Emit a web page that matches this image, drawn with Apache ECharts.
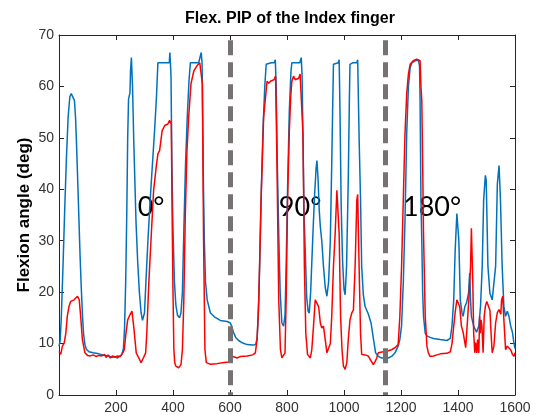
<!DOCTYPE html>
<html>
<head>
<meta charset="utf-8">
<script src="https://cdn.jsdelivr.net/npm/echarts@6/dist/echarts.min.js"></script>
<style>
  html, body { margin: 0; padding: 0; background: #fff; }
  #chart { width: 541px; height: 415px; }
</style>
</head>
<body>
<div id="chart"></div>
<script>
// PIP flexion of the index finger, two recordings over time (samples)
const chartTitle = 'Flex. PIP of the Index finger';
const yAxisTitle = 'Flexion angle (deg)';

const blueX = [0, 4, 8, 14, 20, 26, 32, 38, 43, 48, 54, 58, 62, 66, 70, 74, 78, 82, 86, 91, 96, 105, 120, 140, 160, 175, 185, 195, 205, 212, 220, 226, 230, 234, 238, 241, 244, 247, 249, 251, 254, 258, 262, 266, 270, 276, 282, 288, 293, 296, 300, 305, 312, 320, 328, 336, 342, 347, 360, 375, 387, 389, 391, 393, 396, 400, 405, 410, 416, 423, 428, 433, 438, 444, 450, 456, 461, 475, 490, 497, 499, 502, 504, 507, 510, 514, 520, 531, 545, 566, 590, 601, 606, 612, 620, 630, 645, 660, 680, 690, 695, 699, 704, 710, 716, 722, 727, 732, 745, 755, 759, 762, 766, 771, 776, 782, 788, 793, 797, 802, 808, 814, 817, 830, 845, 850, 853, 856, 860, 864, 869, 874, 878, 883, 890, 896, 902, 905, 909, 913, 917, 922, 928, 934, 940, 946, 952, 957, 960, 963, 970, 980, 983, 986, 990, 995, 1000, 1004, 1009, 1015, 1019, 1021, 1030, 1045, 1048, 1053, 1058, 1062, 1068, 1074, 1085, 1095, 1103, 1111, 1120, 1132, 1145, 1155, 1167, 1179, 1190, 1196, 1202, 1208, 1214, 1220, 1226, 1232, 1238, 1250, 1261, 1265, 1267, 1270, 1273, 1276, 1279, 1285, 1291, 1302, 1314, 1337, 1361, 1373, 1379, 1385, 1390, 1396, 1400, 1403, 1408, 1414, 1418, 1424, 1430, 1437, 1441, 1444, 1447, 1455, 1465, 1473, 1479, 1485, 1490, 1496, 1499, 1505, 1512, 1520, 1526, 1532, 1538, 1544, 1549, 1555, 1561, 1567, 1573, 1579, 1585, 1591, 1596, 1600];
const blueY = [9.5, 10.5, 15, 25, 36, 46, 54, 58, 58.6, 58.3, 57.3, 54, 48, 41, 34, 27, 21, 16, 12, 9.8, 8.9, 8.4, 8.2, 8.0, 7.7, 7.6, 7.3, 7.5, 7.2, 7.3, 7.8, 9, 13, 22, 36, 50, 57.5, 58.3, 58.7, 63, 65.6, 60, 50, 42, 34, 26, 20, 16, 14.5, 14.3, 16, 22, 30, 38, 45, 52, 58, 64.6, 64.6, 64.6, 64.6, 66.6, 64.5, 62, 45, 32, 22, 17.5, 15.5, 15, 16, 20, 32, 45, 54, 61, 64.6, 64.6, 64.6, 64.6, 66.6, 64.5, 55, 40, 30, 22, 18.5, 16, 15.2, 14.5, 14.3, 14, 13.4, 12.2, 11.2, 10.6, 10.1, 9.8, 9.7, 9.8, 11, 15, 25, 40, 52, 60, 64.3, 64.6, 64.6, 64.6, 65.2, 60, 45, 31.4, 20, 14, 13.4, 15.5, 25, 40, 55, 63, 64.6, 64.6, 64.6, 65.6, 62, 50, 35, 28, 19, 16.3, 15.9, 20, 30, 38, 44, 45.6, 42, 36, 32.7, 30, 25, 21, 19.2, 22, 30, 45, 55, 64.3, 64.6, 64.6, 65.2, 55, 37, 26, 20.5, 19.5, 25, 42, 58, 64.3, 64.6, 64.6, 65.2, 50, 38, 25, 19.4, 17.2, 15.8, 14, 11, 8.2, 7.5, 7.2, 7.2, 7.2, 7.5, 8.2, 9.5, 10.8, 13.5, 21.7, 34, 50.8, 60, 63.6, 64.6, 65, 65.1, 64, 57, 38, 30, 20, 15.3, 12, 11.5, 11.2, 11, 10.8, 10.6, 11, 13.5, 18.5, 28, 35.3, 35.6, 30, 18.5, 16, 15.3, 17.2, 17.9, 19.8, 23.7, 18.5, 15.3, 13.4, 12.2, 13.4, 17.2, 25, 37.9, 42.7, 41.8, 25, 19.8, 18.5, 18.5, 25, 41, 44.6, 37.9, 25, 17.2, 15.3, 16.3, 15.3, 13.4, 12.2, 10.2, 9];

const redX = [0, 6, 12, 18, 24, 29, 35, 41, 53, 60, 65, 71, 76, 82, 91, 100, 110, 120, 130, 140, 150, 160, 165, 172, 180, 188, 196, 205, 215, 224, 229, 235, 241, 249, 256, 262, 271, 280, 288, 296, 304, 308, 315, 324, 332, 341, 347, 353, 362, 371, 382, 388, 394, 397, 400, 403, 406, 410, 420, 428, 433, 438, 443, 449, 455, 463, 473, 484, 494, 499, 503, 507, 512, 517, 530, 554, 580, 595, 601, 610, 617, 625, 637, 660, 680, 689, 695, 701, 709, 718, 730, 736, 742, 754, 760, 765, 771, 777, 782, 788, 793, 797, 802, 808, 813, 817, 823, 829, 835, 841, 846, 852, 856, 861, 866, 872, 882, 887, 893, 899, 905, 911, 917, 922, 928, 934, 940, 946, 952, 957, 963, 969, 975, 978, 983, 988, 993, 998, 1004, 1010, 1015, 1021, 1027, 1033, 1039, 1045, 1048, 1053, 1058, 1062, 1074, 1085, 1091, 1097, 1103, 1109, 1115, 1120, 1126, 1138, 1150, 1167, 1179, 1190, 1196, 1202, 1208, 1214, 1220, 1226, 1232, 1243, 1255, 1261, 1267, 1270, 1273, 1276, 1279, 1285, 1291, 1296, 1302, 1314, 1326, 1338, 1361, 1373, 1379, 1385, 1390, 1396, 1400, 1406, 1412, 1418, 1424, 1427, 1432, 1438, 1444, 1447, 1452, 1455, 1459, 1462, 1466, 1469, 1473, 1476, 1478, 1481, 1484, 1488, 1492, 1496, 1501, 1507, 1512, 1516, 1520, 1526, 1532, 1538, 1544, 1550, 1553, 1557, 1561, 1567, 1573, 1579, 1585, 1591, 1596, 1600];
const redY = [8.5, 7.9, 9.5, 10.1, 12, 15.3, 17.2, 18.2, 18.5, 18.8, 19.2, 18.5, 15.3, 10.8, 8.2, 7.7, 7.6, 7.8, 7.5, 7.7, 7.6, 7.9, 7.3, 7.8, 7.2, 7.6, 7.3, 7.6, 7.5, 8.2, 8.8, 12, 14.6, 15.6, 16.3, 13.4, 8.2, 7.2, 6.3, 7.2, 8.2, 12, 21.7, 31.4, 39.8, 44.3, 46.9, 47.5, 51.4, 52.4, 52.7, 53.4, 52.7, 35, 20, 9, 6.3, 5.6, 5.3, 5.9, 8.8, 18.5, 34.6, 47.5, 54, 60.5, 63, 64, 64.6, 64.3, 60.5, 31.4, 8.8, 6.3, 6.0, 6.1, 6.3, 6.4, 7.2, 7.5, 7.6, 7.2, 7.5, 7.6, 7.8, 8.2, 10.8, 18.5, 37.9, 54, 61, 60.6, 61, 61.3, 62, 44.3, 18.5, 8.8, 7.2, 7.0, 8.2, 18.5, 37.9, 51, 58, 61, 62, 61.3, 61.6, 61.6, 62.4, 62.4, 50.8, 25, 12, 7.9, 7.2, 8.8, 13.4, 18.5, 18.8, 17.2, 14, 13, 13.4, 10.8, 8.2, 7.9, 10, 15.3, 25, 31.4, 39.8, 40.1, 31.4, 15.3, 8.8, 5.6, 5, 6.3, 10.8, 14.6, 15.9, 16.5, 25, 37.9, 39, 25, 12, 7.9, 7.8, 7.6, 7.0, 7.2, 5.9, 6.5, 7.2, 8.2, 8.2, 8.4, 8.5, 8.8, 9.2, 9.8, 15.3, 25, 37.9, 50.8, 58.5, 62.4, 64.3, 65, 65.3, 65.5, 65, 60, 57.2, 45, 31.4, 15.3, 9.5, 8.2, 7.5, 7.6, 7.8, 8.0, 8.1, 8.4, 10, 13.4, 16, 18.5, 18.8, 17.2, 13.4, 12.2, 10.2, 9.2, 13.4, 18.5, 25, 32.4, 21.7, 12, 8.2, 10.2, 8.2, 10.8, 8.2, 15.3, 12, 14.6, 13.4, 8.2, 15.3, 17.2, 18.2, 18.5, 16.5, 12, 8.2, 9.5, 14, 16, 16.6, 15.7, 18.5, 19.2, 14.6, 8.8, 9.5, 9.8, 8.8, 7.9, 7.5, 8.2];

// condition boundaries (sample index) and labels for each block
const boundaries = [602, 1145];
const conditionLabels = ['0°', '90°', '180°'];
const conditionAt = [[323, 36.5], [846, 36.5], [1309, 36.5]];

const xTicks = { min: 0, max: 1600, interval: 200 };
const yTicks = { min: 0, max: 70, interval: 10 };

const pairs = (xs, ys) => xs.map((x, i) => [x, ys[i]]);

const axisColor = '#262626';
const labelFont = { fontFamily: 'Liberation Sans', fontSize: 14, color: '#333' };

function xAxisDef(position, showLabels) {
  return {
    type: 'value', position, min: xTicks.min, max: xTicks.max, interval: xTicks.interval,
    axisLine: { show: true, onZero: false, lineStyle: { color: axisColor, width: 1 } },
    axisTick: { show: true, inside: true, length: 5, lineStyle: { color: axisColor } },
    axisLabel: Object.assign({ show: showLabels, margin: 6, formatter: v => v === 0 ? '' : String(v), showMaxLabel: true }, labelFont),
    splitLine: { show: false }
  };
}
function yAxisDef(position, showLabels) {
  return {
    type: 'value', position, min: yTicks.min, max: yTicks.max, interval: yTicks.interval,
    axisLine: { show: true, onZero: false, lineStyle: { color: axisColor, width: 1 } },
    axisTick: { show: true, inside: true, length: 5, lineStyle: { color: axisColor } },
    axisLabel: Object.assign({ show: showLabels, margin: 5 }, labelFont),
    splitLine: { show: false }
  };
}

const chart = echarts.init(document.getElementById('chart'), null, { renderer: 'canvas' });

const option = {
  animation: false,
  backgroundColor: '#ffffff',
  grid: { left: 59, right: 26, top: 35, bottom: 19, containLabel: false },
  xAxis: [xAxisDef('bottom', true), xAxisDef('top', false)],
  yAxis: [yAxisDef('left', true), yAxisDef('right', false)],
  series: [
    {
      type: 'line', name: 'blue', data: pairs(blueX, blueY),
      showSymbol: false, symbol: 'none', smooth: false,
      lineStyle: { color: '#0072BD', width: 1.5 }, z: 2
    },
    {
      type: 'line', name: 'red', data: pairs(redX, redY),
      showSymbol: false, symbol: 'none', smooth: false,
      lineStyle: { color: '#FF0000', width: 1.5 }, z: 3
    },
    {
      type: 'line', name: 'boundaries', data: [], z: 4, silent: true,
      markLine: {
        silent: true, symbol: ['none', 'none'], animation: false,
        label: { show: false },
        lineStyle: { color: '#777272', width: 5, type: [15, 7] },
        data: boundaries.map(b => [{ coord: [b, 69] }, { coord: [b, 0] }])
      }
    }
  ]
};
chart.setOption(option);

// text: title, y-axis title, condition labels
const graphics = [
  {
    type: 'text', x: 290, y: 19,
    style: { text: chartTitle, font: 'bold 16px "Liberation Sans"', fill: '#000', align: 'center', verticalAlign: 'middle' }
  },
  {
    type: 'text', x: 24, y: 215, rotation: Math.PI / 2,
    style: { text: yAxisTitle, font: 'bold 17px "Liberation Sans"', fill: '#000', align: 'center', verticalAlign: 'middle' }
  }
];
conditionLabels.forEach((t, i) => {
  const p = chart.convertToPixel({ gridIndex: 0 }, conditionAt[i]);
  graphics.push({
    type: 'text', x: p[0], y: p[1],
    style: { text: t, font: '27px Lato', fill: '#000', align: 'center', verticalAlign: 'middle' }
  });
});
chart.setOption({ graphic: graphics });
</script>
</body>
</html>
